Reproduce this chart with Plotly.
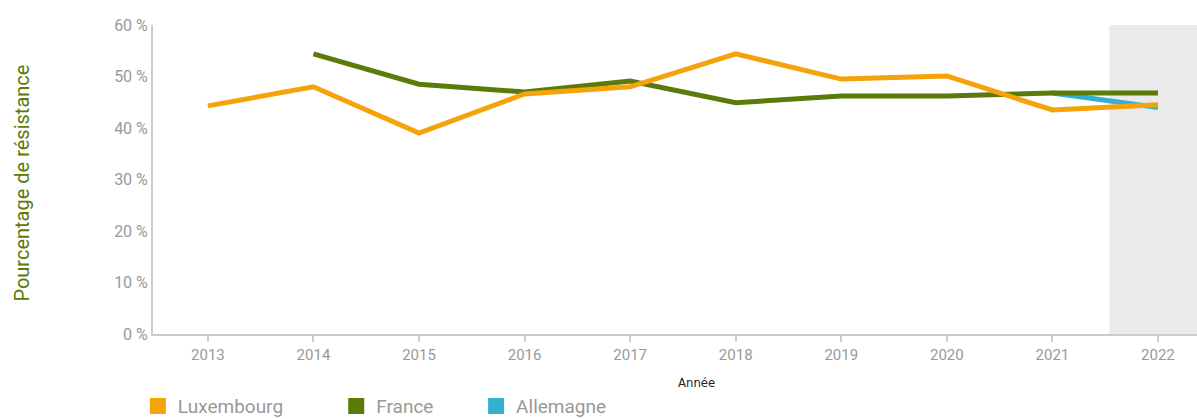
import plotly.graph_objects as go

years = [2013, 2014, 2015, 2016, 2017, 2018, 2019, 2020, 2021, 2022]
luxembourg = [44.3, 48.0, 39.0, 46.6, 48.0, 54.4, 49.5, 50.1, 43.5, 44.5]
france = [None, 54.4, 48.5, 47.0, 49.1, 44.9, 46.2, 46.2, 46.8, 46.8]
allemagne = [None, None, None, None, None, None, None, None, 46.8, 44.0]

y_ticks = [0, 10, 20, 30, 40, 50, 60]
y_ticktext = [f"{v} %" for v in y_ticks]

c_lux = "#F5A30A"
c_fr = "#5A7A0A"
c_de = "#33B0D0"

fig = go.Figure()
series = [("Allemagne", allemagne, c_de), ("France", france, c_fr), ("Luxembourg", luxembourg, c_lux)]
for name, vals, col in series:
    fig.add_trace(go.Scatter(x=years, y=vals, mode="lines", name=name,
                             line=dict(color=col, width=5), showlegend=False,
                             hoverinfo="x+y+name"))

legend_items = [("Luxembourg", c_lux, "legend", -0.0145),
                ("France", c_fr, "legend2", 0.1755),
                ("Allemagne", c_de, "legend3", 0.3095)]
legend_layout = {}
for name, col, lg, lx in legend_items:
    fig.add_trace(go.Scatter(x=[None], y=[None], mode="markers", name=name,
                             marker=dict(symbol="square", size=20, color=col),
                             showlegend=True, legend=lg))
    legend_layout[lg] = dict(orientation="h", x=lx, xanchor="left", y=-0.172, yanchor="top",
                             font=dict(size=19, color="#999999"), itemsizing="trace",
                             bgcolor="rgba(0,0,0,0)")

fig.add_shape(type="rect", xref="x", yref="paper", x0=2021.54, x1=2023, y0=0, y1=1,
              fillcolor="#EAEAEA", line=dict(width=0), layer="below")

fig.update_layout(
    width=1197, height=419,
    margin=dict(l=153, r=0, t=25, b=85, autoexpand=False),
    paper_bgcolor="white", plot_bgcolor="white",
    font=dict(family="Roboto", color="#999999", size=15),
    xaxis=dict(range=[2012.48, 2022.37], tickvals=years, ticktext=[str(y) for y in years],
               showgrid=False, zeroline=False, showline=True, linecolor="#CCCCCC", linewidth=2,
               ticks="outside", ticklen=6, tickcolor="#CCCCCC", tickwidth=2, automargin=False,
               tickfont=dict(size=15, color="#999999")),
    yaxis=dict(range=[0, 60], tickvals=y_ticks, ticktext=y_ticktext, automargin=False,
               showgrid=False, zeroline=False, showline=True, linecolor="#CCCCCC", linewidth=2,
               ticks="", tickfont=dict(size=16, color="#999999")),
    showlegend=True,
    **legend_layout,
)

fig.add_annotation(text="Pourcentage de résistance", xref="paper", yref="paper",
                   x=-0.1255, y=0.49, textangle=-90, showarrow=False,
                   font=dict(size=20, color="#5A7A0A", family="Roboto"),
                   xanchor="center", yanchor="middle")
fig.add_annotation(text="Année", xref="paper", yref="paper",
                   x=0.521, y=-0.158, showarrow=False,
                   font=dict(size=13, color="#222222", family="DejaVu Sans Condensed, Liberation Sans Narrow, Roboto"),
                   xanchor="center", yanchor="middle")

fig.write_html("out.html", config={"displayModeBar": False},
               post_script="document.body.style.margin='0';document.body.style.overflow='hidden';")
